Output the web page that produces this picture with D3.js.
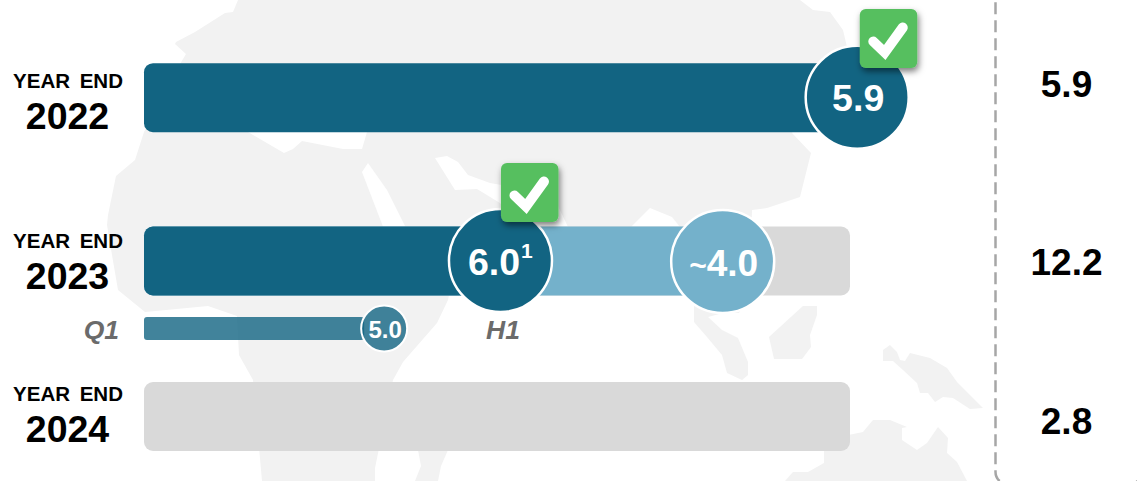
<!DOCTYPE html>
<meta charset="utf-8">
<style>
    html, body { margin: 0; padding: 0; background: #fff; overflow: hidden; }
    svg { display: block; font-family: "Liberation Sans", Arial, sans-serif; font-weight: bold; }
</style>
<body>
<script src="https://d3js.org/d3.v7.min.js"></script>
<script>
    // chart values
    const years = ['2022', '2023', '2024'];
    const rowTotals = [5.9, 12.2, 2.8];
    const totalLabels = ['5.9', '12.2', '2.8'];
    // where each marker sits on its row, in units of that row's total
    const doneValues = [5.96, 6.16, 0];
    const expectedValues = [null, 10.0, null];
    const q1Value = 4.15;
    const doneLabels = ['5.9', '6.0', null];
    const doneNotes = ['', '1', ''];
    const expectedLabel = '4.0';
    const q1Label = '5.0';
    const checked = ['2022', '2023'];

    // background map outlines (pixels)
    const land = [
        [[238,0],[233,12],[225,13],[195,32],[176,42],[175,44],[186,54],[180,64],[144,132],[135,160],[116,176],[108,215],[107,225],[112,255],[118,290],[145,312],[208,306],[237,316],[239,355],[253,380],[262,481],[375,481],[375,468],[393,380],[403,362],[437,323],[448,300],[452,280],[750,280],[752,210],[767,208],[800,197],[811,153],[792,133],[847,47],[843,30],[830,12],[813,10],[800,0]],
        [[694,290],[694,322],[707,337],[722,355],[727,373],[742,380],[748,375],[748,362],[738,338],[722,330],[708,317],[723,313],[739,313],[750,290]],
        [[803,306],[817,306],[817,315],[810,335],[811,347],[802,359],[774,359],[769,337]],
        [[883,350],[890,345],[897,352],[900,360],[905,361],[910,353],[930,358],[947,368],[957,382],[972,397],[983,408],[970,409],[953,398],[943,397],[935,402],[928,393],[920,393],[917,383],[903,370],[893,361],[883,361]],
        [[785,481],[793,472],[808,472],[824,463],[824,440],[863,432],[873,420],[890,420],[907,427],[902,428],[902,440],[917,450],[927,443],[938,427],[948,438],[947,453],[957,462],[967,481]],
        [[418,450],[421,466],[415,481],[438,481],[441,466],[448,450]]
    ];
    const water = [
        [[248,132],[284,153],[293,149],[302,141],[343,149],[362,149],[367,132]],
        [[362,172],[368,163],[387,190],[405,226],[410,250],[392,250]],
        [[435,158],[447,156],[458,162],[468,175],[490,183],[530,190],[558,206],[568,227],[568,250],[520,230],[500,203],[477,189],[455,190]],
        [[631,227],[650,208],[672,217],[680,227]]
    ];

    const width = 1137;
    const height = 481;
    const barLeft = 144;
    const barRight = 850;
    const barHeight = 69;
    const bigR = 51.5;

    const dark = '#126482';
    const light = '#74b1cb';
    const grey = '#d9d9d9';
    const green = '#57bf5f';

    const svg = d3.select('body').append('svg')
        .attr('width', width)
        .attr('height', height);

    const defs = svg.append('defs');
    defs.append('filter').attr('id', 'shadow')
        .attr('x', '-30%').attr('y', '-30%').attr('width', '170%').attr('height', '170%')
        .append('feDropShadow')
        .attr('dx', 1.5).attr('dy', 3.5).attr('stdDeviation', 3)
        .attr('flood-color', '#000').attr('flood-opacity', 0.5);

    // row centres are not quite evenly spaced in the original
    const rowY = d3.scaleOrdinal().domain(years).range([97.7, 261, 416.5]);
    const titleY = d3.scaleOrdinal().domain(years).range([88, 248, 401]);
    const yearY = d3.scaleOrdinal().domain(years).range([129, 289, 442]);
    const rowX = years.map((y, i) => d3.scaleLinear().domain([0, rowTotals[i]]).range([barLeft, barRight]));

    const line = d3.line().curve(d3.curveLinearClosed);

    // map
    svg.append('g').selectAll('path').data(land).join('path')
        .attr('d', line).attr('fill', '#f2f2f2');
    svg.append('g').selectAll('path').data(water).join('path')
        .attr('d', line).attr('fill', '#fff');

    // dashed box round the totals column, only its left side and corners are in frame
    svg.append('rect')
        .attr('x', 995.5).attr('y', -60)
        .attr('width', 146).attr('height', 544)
        .attr('rx', 12)
        .attr('fill', 'none')
        .attr('stroke', '#a6a6a6')
        .attr('stroke-width', 2.5)
        .attr('stroke-dasharray', '12 6');

    // background bars (2022 is fully covered by its dark bar)
    const rows = svg.append('g');
    years.forEach((year, i) => {
        const y = rowY(year) - barHeight / 2;
        const x = rowX[i];
        if (year !== '2022') {
            rows.append('rect').attr('x', barLeft).attr('y', y)
                .attr('width', barRight - barLeft).attr('height', barHeight)
                .attr('rx', 9).attr('fill', grey);
        }
        if (expectedValues[i] !== null) {
            rows.append('rect').attr('x', barLeft).attr('y', y)
                .attr('width', x(expectedValues[i]) - barLeft).attr('height', barHeight)
                .attr('rx', 9).attr('fill', light);
        }
        if (doneValues[i] > 0) {
            rows.append('rect').attr('x', barLeft).attr('y', y)
                .attr('width', x(doneValues[i]) - barLeft).attr('height', barHeight)
                .attr('rx', 9).attr('fill', dark);
        }
    });

    // Q1 bar under the 2023 row
    const q1X = rowX[1](q1Value);
    const q1Y = 328.5;
    svg.append('rect')
        .attr('x', barLeft).attr('y', q1Y - 11.5)
        .attr('width', q1X - barLeft - 20).attr('height', 23)
        .attr('rx', 3)
        .attr('fill', dark).attr('fill-opacity', 0.8);
    svg.append('circle')
        .attr('cx', q1X).attr('cy', q1Y).attr('r', 23)
        .attr('fill', dark).attr('fill-opacity', 0.8)
        .attr('stroke', '#fff').attr('stroke-width', 2);
    svg.append('text')
        .attr('x', q1X + 1).attr('y', 337.7)
        .attr('text-anchor', 'middle')
        .attr('font-size', 24).attr('fill', '#fff')
        .text(q1Label);

    // expected marker
    const expX = rowX[1](expectedValues[1]);
    svg.append('circle')
        .attr('cx', expX).attr('cy', rowY('2023') + 0.5).attr('r', bigR)
        .attr('fill', light).attr('stroke', '#fff').attr('stroke-width', 2.5);
    const expText = svg.append('text')
        .attr('x', expX + 1).attr('y', 275.5)
        .attr('text-anchor', 'middle')
        .attr('font-size', 37).attr('fill', '#fff');
    expText.append('tspan').attr('font-size', 30).text('~');
    expText.append('tspan').text(expectedLabel);

    // done markers
    years.forEach((year, i) => {
        if (doneValues[i] === 0) return;
        const cx = rowX[i](doneValues[i]);
        const cy = rowY(year) - 0.5;
        svg.append('circle')
            .attr('cx', cx).attr('cy', cy).attr('r', bigR)
            .attr('fill', dark).attr('stroke', '#fff').attr('stroke-width', 2.5);
        svg.append('text')
            .attr('x', cx + (doneNotes[i] ? -6.5 : 1))
            .attr('y', cy + 14)
            .attr('text-anchor', 'middle')
            .attr('font-size', 37.5).attr('fill', '#fff')
            .text(doneLabels[i]);
        if (doneNotes[i]) {
            svg.append('text')
                .attr('x', cx + 20.5).attr('y', cy - 3)
                .attr('font-size', 21).attr('fill', '#fff')
                .text(doneNotes[i]);
        }
    });

    // green check badges
    const checkLine = d3.line();
    checked.forEach(year => {
        const i = years.indexOf(year);
        const bx = rowX[i](doneValues[i]) + (year === '2022' ? 2.6 : 0.5);
        const by = year === '2022' ? 9 : 163;
        const badge = svg.append('g').attr('transform', `translate(${bx},${by})`);
        badge.append('rect')
            .attr('width', 57.5).attr('height', 59)
            .attr('rx', 6)
            .attr('fill', green)
            .attr('filter', 'url(#shadow)');
        badge.append('path')
            .attr('d', checkLine([[13.5, 32.5], [25, 43.5], [43, 18.5]]))
            .attr('fill', 'none')
            .attr('stroke', '#fff')
            .attr('stroke-width', 10)
            .attr('stroke-linejoin', 'miter')
            .attr('stroke-linecap', 'round');
    });

    // row labels
    const labels = svg.append('g').attr('text-anchor', 'middle').attr('fill', '#000');
    labels.selectAll('.row-title').data(years).join('text')
        .attr('class', 'row-title')
        .attr('x', 68)
        .attr('y', d => titleY(d))
        .attr('font-size', 20.5)
        .attr('word-spacing', 4)
        .text('YEAR END');
    labels.selectAll('.row-year').data(years).join('text')
        .attr('class', 'row-year')
        .attr('x', 67.5)
        .attr('y', d => yearY(d))
        .attr('font-size', 37.5)
        .text(d => d);

    // sub labels
    svg.append('text')
        .attr('x', 119).attr('y', 339)
        .attr('text-anchor', 'end')
        .attr('font-size', 26.5).attr('font-style', 'italic').attr('fill', '#6b6b6b')
        .text('Q1');
    svg.append('text')
        .attr('x', 503).attr('y', 339)
        .attr('text-anchor', 'middle')
        .attr('font-size', 26.5).attr('font-style', 'italic').attr('fill', '#6b6b6b')
        .text('H1');

    // totals column
    svg.append('g').selectAll('text').data(totalLabels).join('text')
        .attr('x', 1066.5)
        .attr('y', (d, i) => rowY(years[i]) + (i === 0 ? -1 : 13.5 + (i === 2 ? 4 : 0)))
        .attr('text-anchor', 'middle')
        .attr('font-size', 37)
        .attr('fill', '#000')
        .text(d => d);
</script>
</body>
</html>
